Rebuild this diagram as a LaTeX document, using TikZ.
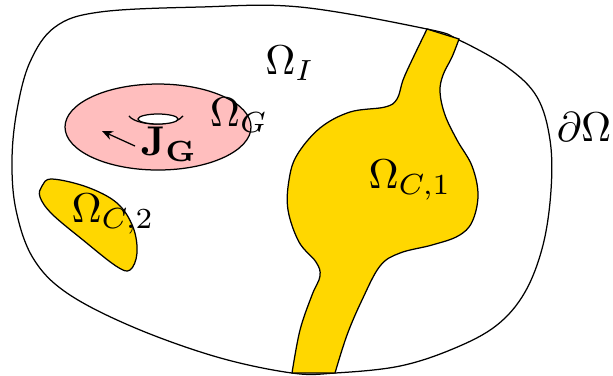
\documentclass[tikz,border=0pt]{standalone}
\usepackage{amsmath}
\usepackage{xcolor}
\usepackage{tikz}
\usetikzlibrary{arrows.meta}

\definecolor{condyellow}{RGB}{255,215,0}
\definecolor{genpink}{RGB}{255,190,190}

\begin{document}
\begin{tikzpicture}[
  x=0.24pt, y=-0.24pt,
  line width=0.3pt,
  boundary/.style={draw, black},
  conductor/.style={draw, fill=condyellow},
  generator/.style={draw, fill=genpink},
  lbl/.style={inner sep=0pt},
  arr/.style={-{Stealth[length=2.6pt, width=2.2pt]}}
]
\useasboundingbox (0,0) rectangle (613,375);

% outer domain
\draw[boundary] plot[smooth cycle, tension=0.6] coordinates {
  (300,7) (427,29) (459,40) (507,67) (537,97) (550,140) (551,190)
  (543,245) (525,292) (497,325) (455,348) (400,366) (335,373)
  (292,373) (217,357) (133,327) (67,293) (33,258) (16,210) (12,160)
  (17,110) (30,62) (55,27) (100,12) (200,7)};

% conducting channel
\draw[conductor] (427,29) -- (459,39)
  -- plot[smooth, tension=0.6] coordinates {(459,39) (452,57) (443,75) (440,92)
     (445,115) (457,140) (472,166) (478,195) (472,222) (458,236) (432,245)
     (400,253) (380,266) (362,300) (347,335) (335,373)}
  -- (292,373)
  -- plot[smooth, tension=0.6] coordinates {(292,373) (300,330) (312,295)
     (320,276) (316,262) (299,242) (288,210) (289,180) (297,155) (320,128)
     (350,112) (385,107) (397,99) (403,80) (412,60) (427,29)}
  -- cycle;

% small conductor
\draw[conductor] plot[smooth cycle, tension=0.6] coordinates {
  (42,186) (52,179) (87,187) (117,203) (133,227) (137,253) (130,270)
  (116,266) (83,240) (52,214) (40,197)};

% generator
\draw[generator] (158,127) ellipse [x radius=93, y radius=43];
\draw ([shift={(165:28 and 11)}]156,113) arc[start angle=165, end angle=15, x radius=28, y radius=11];
\draw[fill=white] (158,119) ellipse [x radius=20, y radius=5];

\coordinate (jtail) at (135,146);
\coordinate (jtip) at (102,131);
\draw[arr] (jtail) -- (jtip);

% labels
\node[lbl] (omI) at (290,63) {$\Omega_I$};
\node[lbl] (omG) at (239,115) {$\Omega_G$};
\node[lbl] (jG) at (169,144) {$\mathbf{J}_{\mathbf{G}}$};
\node[lbl] (omC1) at (410,180) {$\Omega_{C,1}$};
\node[lbl] (omC2) at (113,214) {$\Omega_{C,2}$};
\node[lbl] (dom) at (584,127) {$\partial\Omega$};
\end{tikzpicture}
\end{document}
